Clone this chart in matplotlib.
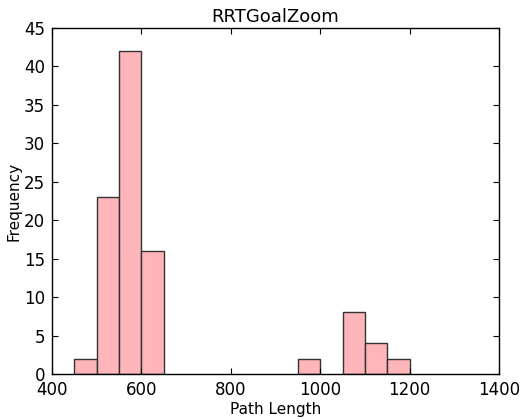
import matplotlib
matplotlib.use("Agg")
import matplotlib.pyplot as plt

bin_left = [450, 500, 550, 600, 650, 700, 750, 800, 850, 900, 950, 1000, 1050, 1100, 1150]
counts = [2, 23, 42, 16, 0, 0, 0, 0, 0, 0, 2, 0, 8, 4, 2]
bin_width = 50
title = "RRTGoalZoom"
xlabel = "Path Length"
ylabel = "Frequency"

fig = plt.figure(figsize=(5.21, 4.19), dpi=100)
ax = fig.add_axes([0.0998, 0.1074, 0.8582, 0.8258])
bars = [(l, c) for l, c in zip(bin_left, counts) if c > 0]
ax.bar([b[0] for b in bars], [b[1] for b in bars], width=bin_width, align='edge',
       color='#ffb6ba', edgecolor='#333333', linewidth=1.0)
ax.set_xlim(400, 1400)
ax.set_ylim(0, 45)
ax.set_xticks(range(400, 1401, 200))
ax.set_yticks(range(0, 46, 5))
ax.tick_params(direction='in', top=True, right=True, labelsize=12, length=4, pad=5)
ax.set_title(title, fontsize=13, pad=4)
ax.set_xlabel(xlabel, fontsize=11, labelpad=2)
ax.set_ylabel(ylabel, fontsize=11, labelpad=2)
for s in ax.spines.values():
    s.set_linewidth(1.0)
fig.savefig("out.png", dpi=100)
